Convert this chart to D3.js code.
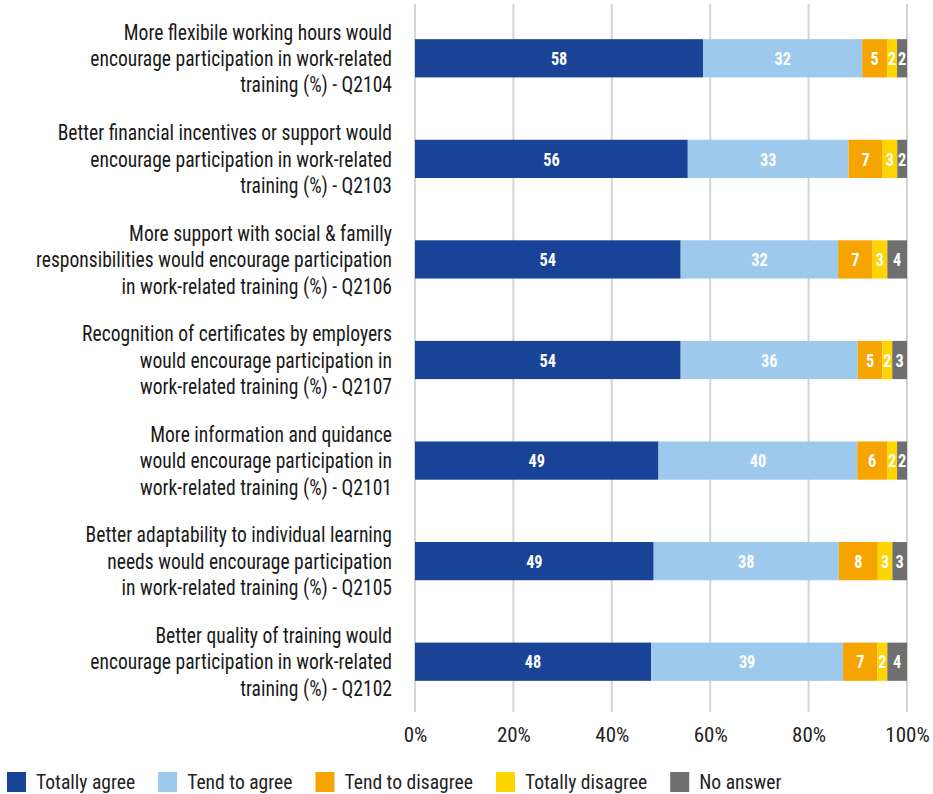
<!DOCTYPE html>
<html lang="en">
<head>
<meta charset="utf-8">
<title>Work-related training</title>
<script src="https://cdn.jsdelivr.net/npm/d3@7"></script>
<style>
  body { margin: 0; background: #fff; }
  svg text { font-family: "Liberation Sans Narrow", "Arial Narrow", "Roboto Condensed", Roboto, sans-serif; }
</style>
</head>
<body>
<div id="chart"></div>
<script>
// questions, top to bottom, each label split in its lines
var questions = [
  ["More flexibile working hours would", "encourage participation in work-related", "training (%) - Q2104"],
  ["Better financial incentives or support would", "encourage participation in work-related", "training (%) - Q2103"],
  ["More support with social & familly", "responsibilities would encourage participation", "in work-related training (%) - Q2106"],
  ["Recognition of certificates by employers", "would encourage participation in", "work-related training (%) - Q2107"],
  ["More information and quidance", "would encourage participation in", "work-related training (%) - Q2101"],
  ["Better adaptability to individual learning", "needs would encourage participation", "in work-related training (%) - Q2105"],
  ["Better quality of training would", "encourage participation in work-related", "training (%) - Q2102"]
];
var answers = ["Totally agree", "Tend to agree", "Tend to disagree", "Totally disagree", "No answer"];
var colors = ["#184397", "#9dc9ec", "#f6a500", "#ffd500", "#6f6f6f"];

var totallyAgree    = [58, 56, 54, 54, 49, 49, 48];
var tendToAgree     = [32, 33, 32, 36, 40, 38, 39];
var tendToDisagree  = [5, 7, 7, 5, 6, 8, 7];
var totallyDisagree = [2, 3, 3, 2, 2, 3, 2];
var noAnswer        = [2, 2, 4, 3, 2, 3, 4];
var ticks = [0, 0.2, 0.4, 0.6, 0.8, 1];

var series = [totallyAgree, tendToAgree, tendToDisagree, totallyDisagree, noAnswer];

// rows with each answer as share of the row total (100% stacked)
var rows = questions.map(function(q, i) {
  var row = { id: i };
  var total = d3.sum(series, function(s) { return s[i]; });
  answers.forEach(function(a, j) { row[a] = series[j][i] / total; row[a + "_v"] = series[j][i]; });
  return row;
});

var W = 933, H = 794;
var margin = { top: 8, right: 26, bottom: 82, left: 415 };
var width = W - margin.left - margin.right;
var height = H - margin.top - margin.bottom;

var svg = d3.select("#chart").append("svg")
  .attr("width", W)
  .attr("height", H);

var g = svg.append("g").attr("transform", "translate(" + margin.left + "," + margin.top + ")");

var x = d3.scaleLinear().domain([0, 1]).range([0, width]);
var y = d3.scaleBand().domain(rows.map(function(d) { return d.id; })).range([0, height]).paddingInner(0.62).paddingOuter(0.31);

// grid
g.selectAll(".grid")
  .data(ticks)
  .enter().append("line")
  .attr("x1", function(d) { return x(d); })
  .attr("x2", function(d) { return x(d); })
  .attr("y1", -4)
  .attr("y2", height)
  .attr("stroke", "#d4d4d4")
  .attr("stroke-width", 2);

// x axis labels
var xAxis = g.append("g")
  .attr("transform", "translate(0," + height + ")")
  .call(d3.axisBottom(x).tickValues(ticks).tickFormat(d3.format(".0%")).tickSize(0).tickPadding(15));
xAxis.select(".domain").remove();
xAxis.selectAll("text").attr("font-size", 21).attr("fill", "#222")
  .style("font-family", '"Liberation Sans Narrow", "Arial Narrow", "Roboto Condensed", Roboto, sans-serif');

// stacked bars
var stack = d3.stack().keys(answers);
var layers = g.selectAll(".layer")
  .data(stack(rows))
  .enter().append("g")
  .attr("fill", function(d, i) { return colors[i]; });

var seg = layers.selectAll("g")
  .data(function(d) { return d.map(function(p) { return { p: p, key: d.key }; }); })
  .enter().append("g");

seg.append("rect")
  .attr("x", function(d) { return x(d.p[0]); })
  .attr("y", function(d) { return y(d.p.data.id); })
  .attr("width", function(d) { return x(d.p[1]) - x(d.p[0]); })
  .attr("height", y.bandwidth());

seg.append("text")
  .attr("transform", function(d) {
    return "translate(" + ((x(d.p[0]) + x(d.p[1])) / 2) + "," + (y(d.p.data.id) + y.bandwidth() / 2) + ") scale(0.88,1)";
  })
  .attr("dy", "0.36em")
  .attr("text-anchor", "middle")
  .attr("fill", "#fff")
  .attr("font-weight", "bold")
  .attr("font-size", 18.5)
  .text(function(d) { return d.p.data[d.key + "_v"]; });

// category labels, slightly condensed
var labels = g.selectAll(".qlabel")
  .data(questions)
  .enter().append("text")
  .attr("text-anchor", "end")
  .attr("font-size", 22)
  .attr("fill", "#1a1a1a")
  .attr("transform", function(d, i) { return "translate(-23," + (y(i) + y.bandwidth() / 2) + ") scale(0.89,1)"; });

labels.selectAll("tspan")
  .data(function(d) { return d; })
  .enter().append("tspan")
  .attr("x", 0)
  .attr("dy", function(d, i) { return i === 0 ? "-0.85em" : "1.2em"; })
  .text(function(d) { return d; });

// legend
var legend = svg.append("g").attr("transform", "translate(7," + (H - 22) + ")");
var lx = 0;
answers.forEach(function(a, i) {
  var item = legend.append("g").attr("transform", "translate(" + lx + ",0)");
  item.append("rect").attr("width", 19).attr("height", 20).attr("fill", colors[i]);
  var t = item.append("text")
    .attr("transform", "translate(29,10) scale(0.98,1)")
    .attr("dy", "0.35em")
    .attr("font-size", 20)
    .attr("fill", "#222")
    .text(a);
  lx += 29 + t.node().getComputedTextLength() * 0.98 + 23;
});
</script>
</body>
</html>
